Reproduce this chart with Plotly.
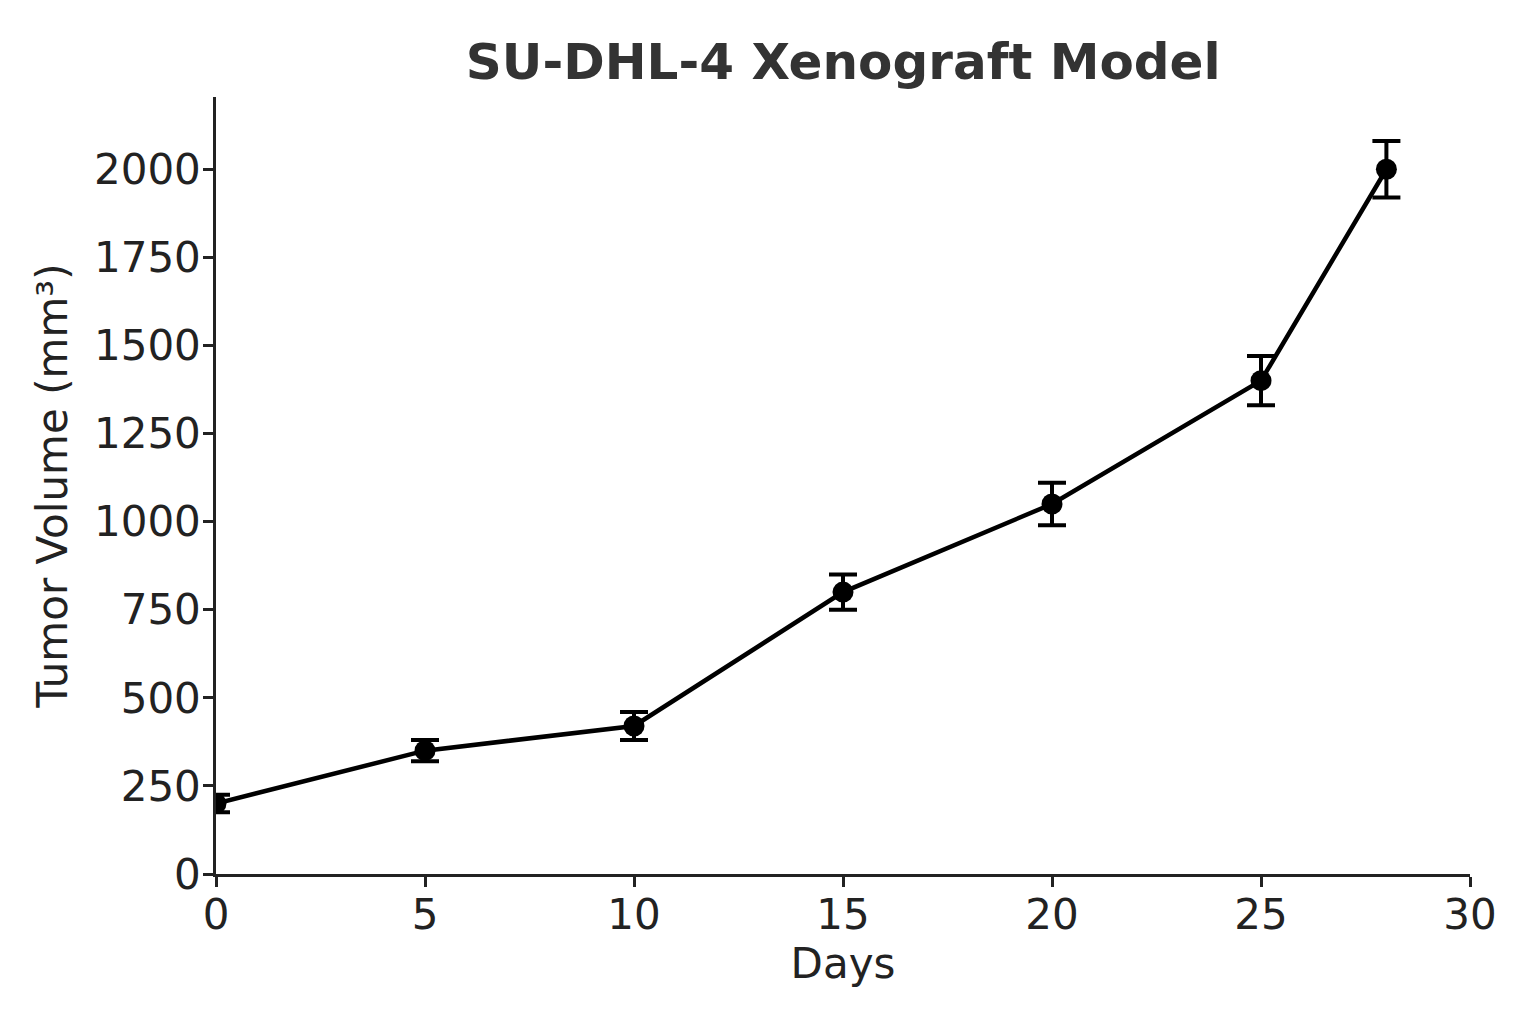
import plotly.graph_objects as go

days = [0, 5, 10, 15, 20, 25, 28]
volume = [200, 350, 420, 800, 1050, 1400, 2000]
error = [25, 30, 40, 50, 60, 70, 80]

x_ticks = [0, 5, 10, 15, 20, 25, 30]
y_ticks = [0, 250, 500, 750, 1000, 1250, 1500, 1750, 2000]

fig = go.Figure()
fig.add_trace(go.Scatter(
    x=days, y=volume, mode="lines+markers",
    line=dict(color="black", width=4.5),
    marker=dict(color="black", size=21),
    error_y=dict(type="data", array=error, visible=True, color="black",
                 thickness=4, width=14),
    showlegend=False,
))

font = "DejaVu Sans"
fig.update_layout(
    width=1536, height=1024,
    paper_bgcolor="white", plot_bgcolor="white",
    margin=dict(l=216, r=66, t=97, b=150),
    title=dict(text="<b>SU-DHL-4 Xenograft Model</b>", x=0.549, xanchor="center",
               y=0.94, yanchor="middle",
               font=dict(family=font, size=50, color="#333333")),
    font=dict(family=font, color="#222222"),
)
fig.update_xaxes(
    range=[0, 30], tickvals=x_ticks, ticktext=[str(v) for v in x_ticks],
    showgrid=False, zeroline=False, showline=True, linecolor="#222222", linewidth=2.5,
    ticks="outside", ticklen=10, tickwidth=2.5, tickcolor="#222222",
    tickfont=dict(size=42, family=font, color="#222222"), ticklabelstandoff=-8,
    title=dict(text="Days", font=dict(size=42, family=font, color="#222222"), standoff=8),
)
fig.update_yaxes(
    range=[0, 2205], tickvals=y_ticks, ticktext=[str(v) for v in y_ticks],
    showgrid=False, zeroline=False, showline=True, linecolor="#222222", linewidth=2.5,
    ticks="outside", ticklen=10, tickwidth=2.5, tickcolor="#222222",
    tickfont=dict(size=42, family=font, color="#222222"), ticklabelstandoff=-6,
    title=dict(text="Tumor Volume (mm³)", font=dict(size=42, family=font, color="#222222"), standoff=14),
)
fig.write_html("out.html")
